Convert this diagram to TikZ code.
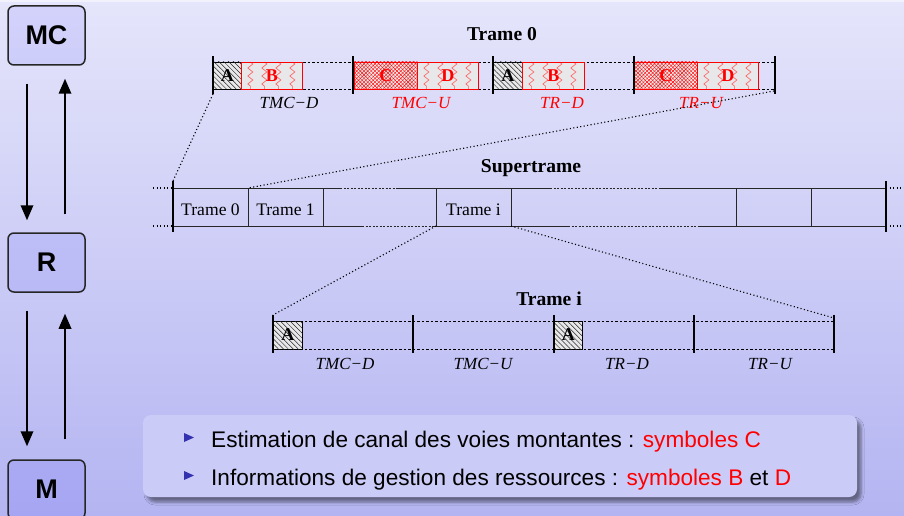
\documentclass[tikz,border=0pt]{standalone}
\usepackage{fontspec}
\setmainfont{Liberation Serif}
\newfontfamily\sansf{Liberation Sans}
\usetikzlibrary{patterns.meta,decorations.pathmorphing,arrows.meta,shadows.blur}
\definecolor{bgtop}{RGB}{229,229,251}
\definecolor{bgbot}{RGB}{180,180,242}
\definecolor{boxfill}{RGB}{203,203,247}
\definecolor{cellgray}{RGB}{232,232,234}
\definecolor{bulletblue}{RGB}{51,51,178}
\begin{document}
\begin{tikzpicture}[x=1pt,y=-1pt,
  entity/.style={draw=black!85, line width=1.5pt, rounded corners=6pt, fill=blue, fill opacity=0.08, text opacity=1,
    minimum width=77pt, minimum height=59pt, inner sep=0pt, font=\sansf\bfseries\fontsize{27}{30}\selectfont},
  arr/.style={line width=1.8pt, arrows={-Triangle[length=15pt,width=12.5pt]}},
  bar/.style={line width=2.5pt},
  dline/.style={dash pattern=on 2.5pt off 2pt, line width=0.8pt},
  dotline/.style={line width=1.1pt, dash pattern=on 1.1pt off 2.4pt},
  sline/.style={line width=1pt, black!85},
  sdash/.style={line width=1pt, black!85, dash pattern=on 2pt off 1.5pt},
  cellA/.style={draw=black, line width=0.6pt, fill=cellgray,
    postaction={pattern={Lines[angle=-45,distance=3.5pt,line width=0.5pt]}, pattern color=black!85},
    minimum height=27pt, inner sep=0pt, anchor=west, font=\bfseries\fontsize{18}{20}\selectfont},
  cellZ/.style={draw=red, line width=0.7pt, fill=cellgray, text=red,
    path picture={\foreach \dx in {9,23,37,51}{\draw[red!65, line width=0.6pt, decorate,
      decoration={zigzag,segment length=8pt,amplitude=2.5pt}]
      ([xshift=\dx*1pt]path picture bounding box.north west) -- ([xshift=\dx*1pt]path picture bounding box.south west);}},
    minimum height=27pt, inner sep=0pt, anchor=west, font=\bfseries\fontsize{18}{20}\selectfont},
  cellX/.style={draw=red, line width=0.7pt, fill=cellgray, text=red,
    postaction={pattern={Lines[angle=45,distance=2.6pt,line width=0.4pt]}, pattern color=red},
    postaction={pattern={Lines[angle=-45,distance=2.6pt,line width=0.4pt]}, pattern color=red},
    minimum height=27pt, inner sep=0pt, anchor=west, font=\bfseries\fontsize{18}{20}\selectfont},
  title/.style={anchor=base, inner sep=0pt, font=\bfseries\fontsize{19.6}{22}\selectfont},
  seglbl/.style={anchor=base, inner sep=0pt, font=\itshape\fontsize{17}{19}\selectfont},
  celltxt/.style={anchor=base, inner sep=0pt, font=\fontsize{17.6}{20}\selectfont},
  bodytxt/.style={anchor=base west, inner sep=0pt, font=\sansf\fontsize{22.6}{26}\selectfont},
  infobox/.style={fill=boxfill, rounded corners=8pt, minimum width=714pt, minimum height=82pt,
    blur shadow={shadow xshift=4pt, shadow yshift=-5pt, shadow blur radius=3pt, shadow opacity=45}}
]
\useasboundingbox (0,0) rectangle (904,516);
\shade[top color=bgtop, bottom color=bgbot] (0,0) rectangle (904,516);
\fill[white, opacity=0.5] (0,0) rectangle (904,2);

% left column
\node[entity] (MC) at (46.5,35.5) {MC};
\node[entity] (R) at (46.5,262.5) {R};
\node[entity] (M) at (46.5,489.5) {M};
\draw[arr, shorten <=18pt, shorten >=12pt] ([xshift=-19.5pt]MC.south) -- ([xshift=-19.5pt]R.north);
\draw[arr, shorten <=18pt, shorten >=13pt] ([xshift=18.5pt]R.north) -- ([xshift=18.5pt]MC.south);
\draw[arr, shorten <=18pt, shorten >=13pt] ([xshift=-19.5pt]R.south) -- ([xshift=-19.5pt]M.north);
\draw[arr, shorten <=20pt, shorten >=21pt] ([xshift=18.5pt]M.north) -- ([xshift=18.5pt]R.south);

% Trame 0
\node[title] (t0title) at (502,41) {Trame 0};
\draw[dline] (213,62) -- (775,62);
\draw[dline] (213,89) -- (775,89);
\node[cellA, minimum width=28pt] (A1) at (213,75.5) {A};
\node[cellZ, minimum width=61pt] (B1) at (241,75.5) {B};
\node[cellX, minimum width=63pt] (C1) at (354,75.5) {C};
\node[cellZ, minimum width=61pt] (D1) at (417,75.5) {D};
\node[cellA, minimum width=29pt] (A2) at (493,75.5) {A};
\node[cellZ, minimum width=62pt] (B2) at (522,75.5) {B};
\node[cellX, minimum width=63pt] (C2) at (634,75.5) {C};
\node[cellZ, minimum width=61pt] (D2) at (697,75.5) {D};
\foreach \x in {213,353,493,634,775} \draw[bar] (\x,56) -- (\x,94);
\node[seglbl] (l1) at (289,109) {TMC−D};
\node[seglbl, text=red] (l2) at (421,109) {TMC−U};
\node[seglbl, text=red] (l3) at (562,109) {TR−D};
\node[seglbl, text=red] (l4) at (701,109) {TR−U};
\coordinate (r0L) at (213,94);
\coordinate (r0R) at (774,91);

% Supertrame
\node[title] (sttitle) at (531,172) {Supertrame};
\draw[dotline] (153,188) -- (173,188);
\draw[dotline] (153,226) -- (173,226);
\draw[dotline] (886,188) -- (904,188);
\draw[dotline] (886,226) -- (904,226);
\draw[sline] (173,188) -- (340,188);
\draw[sdash] (340,188) -- (398,188);
\draw[sline] (398,188) -- (550,188);
\draw[sdash] (550,188) -- (659,188);
\draw[sline] (659,188) -- (886,188);
\draw[sline] (173,226) -- (362,226);
\draw[sdash] (362,226) -- (433,226);
\draw[sline] (433,226) -- (568,226);
\draw[sdash] (568,226) -- (698,226);
\draw[sline] (698,226) -- (886,226);
\foreach \x in {248,323,436,511,736,811} \draw[sline] (\x,188) -- (\x,226);
\draw[bar] (173,181) -- (173,232);
\draw[bar] (886,181) -- (886,232);
\node[celltxt] (st0) at (210.5,215) {Trame 0};
\node[celltxt] (st1) at (285.5,215) {Trame 1};
\node[celltxt] (sti) at (473.5,215) {Trame i};
\coordinate (sL) at (173,181);
\coordinate (s1) at (248,188);
\coordinate (si) at (436,226);
\coordinate (sj) at (511,226);

% Trame i
\node[title] (tititle) at (549,305) {Trame i};
\draw[dline] (273,321) -- (834,321);
\draw[dline] (273,349) -- (834,349);
\node[cellA, minimum width=29pt, minimum height=28pt] (Ai1) at (273,335) {A};
\node[cellA, minimum width=28pt, minimum height=28pt] (Ai2) at (554,335) {A};
\foreach \x in {273,413,554,694,834} \draw[bar] (\x,315) -- (\x,353);
\node[seglbl] (m1) at (345,369) {TMC−D};
\node[seglbl] (m2) at (483,369) {TMC−U};
\node[seglbl] (m3) at (627,369) {TR−D};
\node[seglbl] (m4) at (770,369) {TR−U};
\coordinate (iL) at (273,315);
\coordinate (iR) at (834,318);

% zoom lines
\draw[dotline] (r0L) -- (sL);
\draw[dotline] (r0R) -- (s1);
\draw[dotline] (si) -- (iL);
\draw[dotline] (sj) -- (iR);

% info block
\node[infobox] (info) at (500,456) {};
\fill[bulletblue] (184,433) -- (194,437.5) -- (184,442) -- cycle;
\fill[bulletblue] (184,471) -- (194,475.5) -- (184,480) -- cycle;
\node[bodytxt] (it1) at (211,447) {Estimation de canal des voies montantes : \textcolor{red}{symboles C}};
\node[bodytxt] (it2) at (211,485) {Informations de gestion des ressources : \textcolor{red}{symboles B} et \textcolor{red}{D}};
\end{tikzpicture}
\end{document}
